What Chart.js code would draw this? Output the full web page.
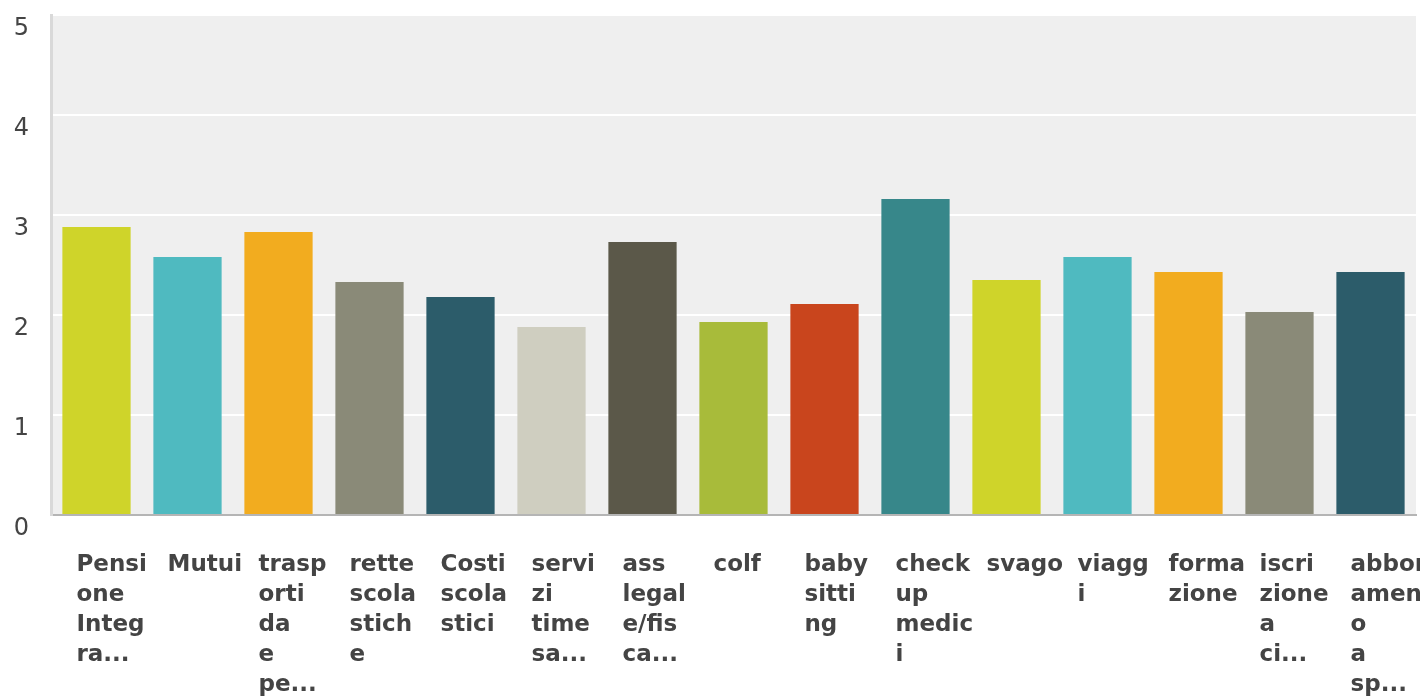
<!DOCTYPE html>
<html>
<head>
<meta charset="utf-8">
<script src="https://cdn.jsdelivr.net/npm/chart.js@4/dist/chart.umd.min.js"></script>
<style>
  html, body { margin: 0; padding: 0; background: #fff; }
  #wrap { width: 1420px; height: 696px; }
</style>
</head>
<body>
<div id="wrap"><canvas id="barChart" width="1420" height="696"></canvas></div>
<script>
// categories (wrapped and cut the way the original shows them)
const categories = [
  ['Pensi', 'one', 'Integ', 'ra...'],
  ['Mutui'],
  ['trasp', 'orti', 'da', 'e', 'pe...'],
  ['rette', 'scola', 'stich', 'e'],
  ['Costi', 'scola', 'stici'],
  ['servi', 'zi', 'time', 'sa...'],
  ['ass', 'legal', 'e/fis', 'ca...'],
  ['colf'],
  ['baby', 'sitti', 'ng'],
  ['check', 'up', 'medic', 'i'],
  ['svago'],
  ['viagg', 'i'],
  ['forma', 'zione'],
  ['iscri', 'zione', 'a', 'ci...'],
  ['abbon', 'ament', 'o', 'a', 'sp...']
];

// average score per category
const scores = [2.88, 2.58, 2.83, 2.33, 2.18, 1.88, 2.73, 1.93, 2.11, 3.16, 2.35, 2.58, 2.43, 2.03, 2.43];

const barColors = [
  '#cfd42a', '#4fbac0', '#f2ac1f', '#8a8a78', '#2c5c6a',
  '#cfcec0', '#5b5849', '#a8bb3a', '#c9451d', '#37878a',
  '#cfd42a', '#4fbac0', '#f2ac1f', '#8a8a78', '#2c5c6a'
];

const yTicks = [0, 1, 2, 3, 4, 5];

// grey plot background
const plotBg = {
  id: 'plotBg',
  beforeDraw(chart) {
    const { ctx, chartArea: a } = chart;
    ctx.save();
    ctx.fillStyle = '#efefef';
    ctx.fillRect(a.left, a.top, a.right - a.left, a.bottom - a.top);
    ctx.restore();
  }
};

const ctx = document.getElementById('barChart').getContext('2d');
new Chart(ctx, {
  type: 'bar',
  data: {
    labels: categories,
    datasets: [{
      data: scores,
      backgroundColor: barColors,
      borderWidth: 0,
      categoryPercentage: 0.75,
      barPercentage: 1
    }]
  },
  options: {
    responsive: false,
    animation: false,
    layout: { padding: { top: 15, right: 4, left: 0, bottom: 0 } },
    plugins: { legend: { display: false }, tooltip: { enabled: false } },
    scales: {
      x: {
        grid: { display: false },
        border: { display: true, color: '#b5b5b5', width: 2 },
        ticks: {
          autoSkip: false,
          maxRotation: 0,
          minRotation: 0,
          align: 'start',
          labelOffset: -20,
          padding: 27,
          color: '#444',
          font: { family: 'DejaVu Sans', size: 23, weight: 'bold', lineHeight: '30px' }
        },
        afterFit(s) { s.height = 181; s.paddingLeft = 0; s.paddingRight = 0; }
      },
      y: {
        min: 0,
        max: 5,
        afterBuildTicks(s) { s.ticks = yTicks.map(v => ({ value: v })); },
        grid: { color: '#ffffff', lineWidth: 2, drawTicks: false },
        border: { display: true, color: '#d9d9d9', width: 3 },
        ticks: {
          padding: 22,
          labelOffset: 14,
          color: '#444',
          font: { family: 'DejaVu Sans', size: 24 }
        },
        afterFit(s) { s.width = 51; s.paddingTop = 0; s.paddingBottom = 0; }
      }
    }
  },
  plugins: [plotBg]
});
</script>
</body>
</html>
